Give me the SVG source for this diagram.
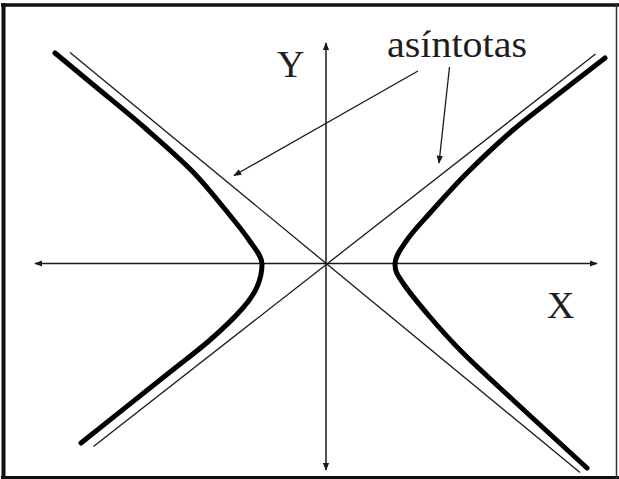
<svg xmlns="http://www.w3.org/2000/svg" width="619" height="479" viewBox="0 0 619 479">
<defs>
<marker id="ah" viewBox="0 0 10 10" refX="9" refY="5" markerWidth="8" markerHeight="8" markerUnits="userSpaceOnUse" orient="auto">
<path d="M0,1 L10,5 L0,9 Z" fill="#1a1a1a"/>
</marker>
<marker id="ah2" viewBox="0 0 10 10" refX="9" refY="5" markerWidth="10" markerHeight="8" markerUnits="userSpaceOnUse" orient="auto">
<path d="M0,1 L10,5 L0,9 Z" fill="#1a1a1a"/>
</marker>
</defs>
<style>
.axis{stroke:#1a1a1a;stroke-width:1.5;fill:none}
.asym{stroke:#1a1a1a;stroke-width:1.3;fill:none}
.hyp{stroke:#000;stroke-width:5;fill:none;stroke-linecap:round;stroke-linejoin:round}
.ptr{stroke:#1a1a1a;stroke-width:1.3;fill:none}
.lbl{font-family:"Liberation Serif","Times New Roman",serif;fill:#1e1e1e}
</style>
<rect x="0" y="0" width="619" height="479" fill="#fff"/>
<g id="frame">
<line x1="3.5" y1="3" x2="3.5" y2="479" stroke="#111" stroke-width="4"/>
<line x1="1" y1="5" x2="619" y2="5" stroke="#111" stroke-width="3.5"/>
<line x1="1" y1="477.5" x2="619" y2="477.5" stroke="#111" stroke-width="3"/>
<line x1="616.5" y1="3" x2="616.5" y2="479" stroke="#333" stroke-width="1.5"/>
</g>
<g id="connectors">
<line id="x-axis-r" class="axis" x1="326" y1="263.5" x2="597" y2="263.5" marker-end="url(#ah)"/>
<line id="x-axis-l" class="axis" x1="326" y1="263.5" x2="35" y2="263.5" marker-end="url(#ah)"/>
<line id="y-axis-u" class="axis" x1="326" y1="263.5" x2="326" y2="43" marker-end="url(#ah)"/>
<line id="y-axis-d" class="axis" x1="326" y1="263.5" x2="326" y2="470" marker-end="url(#ah)"/>
<line class="asym" x1="70" y1="52.5" x2="580" y2="472.5"/>
<line class="asym" x1="595.5" y1="54" x2="93.5" y2="446.5"/>
<line class="ptr" x1="418" y1="71" x2="234" y2="175.5" marker-end="url(#ah2)"/>
<line class="ptr" x1="449.5" y1="67" x2="439" y2="163" marker-end="url(#ah2)"/>
</g>
<g id="hyperbola-left">
<path class="hyp" d="M55,53 C61.8,58.7 81,74.5 96,87 C111,99.5 128.8,113.8 145,128 C161.2,142.2 179.2,157.8 193,172 C206.8,186.2 218.7,201.7 228,213 C237.3,224.3 243.3,231.5 249,240 C254.7,248.5 262,256 262,264 C262,272 260.3,279.5 257,287 C253.7,294.5 249.8,300.2 242,309 C234.2,317.8 222.8,328.8 210,340 C197.2,351.2 186.5,358.8 165,376 C143.5,393.2 95,431.8 81,443"/>
</g>
<g id="hyperbola-right">
<path class="hyp" d="M605,58 L563,90.5 C547.7,102.5 529,116.3 513,130 C497,143.8 480.8,159.2 467,173 C453.2,186.8 440,201.8 430,213 C420,224.2 412.8,231.5 407,240 C401.2,248.5 395,256 395,264 C395,272 397.2,274.2 403,283 C408.8,291.8 420,305.3 430,317 C440,328.7 449.2,339.2 463,353 C476.8,366.8 492.3,380.8 513,400 C533.7,419.2 574.7,456.7 587,468"/>
</g>
<g id="label-y"><text class="lbl" x="277" y="76.5" font-size="38">Y</text></g>
<g id="label-x"><text class="lbl" x="547" y="318" font-size="38">X</text></g>
<g id="label-asintotas"><text class="lbl" x="387" y="57" font-size="38" textLength="140" lengthAdjust="spacingAndGlyphs">asíntotas</text></g>
</svg>
